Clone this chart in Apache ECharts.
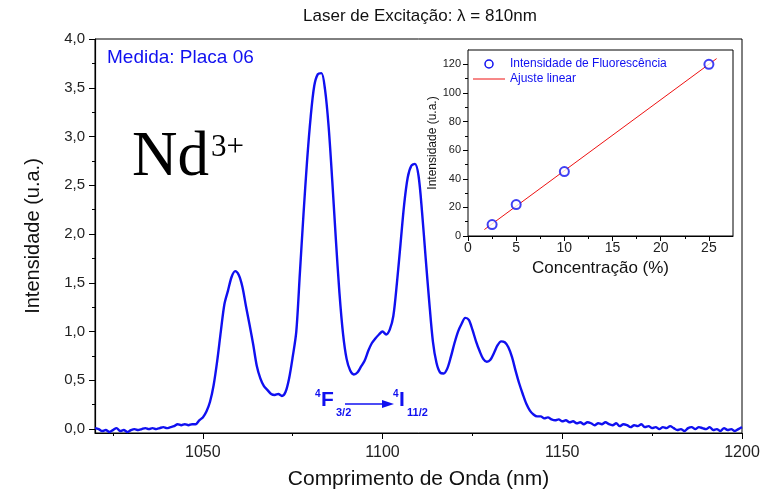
<!DOCTYPE html>
<html>
<head>
<meta charset="utf-8">
<script src="https://cdn.jsdelivr.net/npm/echarts@6/dist/echarts.min.js"></script>
<style>
  html, body { margin: 0; padding: 0; background: #fff; }
  #chart { width: 769px; height: 495px; }
</style>
</head>
<body>
<div id="chart"></div>
<script>
// spectrum, one reading per nm starting at 1020 nm
const startNm = 1020;
const intensity = [
  0.01, 0.00, -0.02, -0.01, -0.03, -0.01, 0.01, -0.02, -0.01, -0.03,
  -0.01, 0.00, -0.01, 0.00, 0.01, 0.00, 0.01, 0.00, 0.01, 0.02,
  0.01, 0.02, 0.03, 0.05, 0.04, 0.05, 0.04, 0.05, 0.05, 0.09,
  0.12, 0.18, 0.28, 0.45, 0.70, 1.00, 1.28, 1.42, 1.56, 1.62,
  1.58, 1.46, 1.26, 1.07, 0.87, 0.65, 0.52, 0.44, 0.40, 0.36,
  0.35, 0.36, 0.34, 0.38, 0.52, 0.74, 1.00, 1.60, 2.20, 2.75,
  3.20, 3.52, 3.64, 3.65, 3.48, 3.10, 2.55, 1.95, 1.40, 0.98,
  0.72, 0.60, 0.56, 0.58, 0.64, 0.70, 0.80, 0.88, 0.93, 0.97,
  1.00, 0.97, 1.02, 1.16, 1.50, 1.90, 2.30, 2.58, 2.70, 2.72,
  2.60, 2.22, 1.75, 1.30, 0.90, 0.68, 0.58, 0.57, 0.62, 0.74,
  0.88, 1.00, 1.08, 1.14, 1.12, 1.02, 0.90, 0.80, 0.72, 0.69,
  0.71, 0.78, 0.86, 0.90, 0.89, 0.84, 0.74, 0.60, 0.47, 0.36,
  0.26, 0.19, 0.15, 0.13, 0.13, 0.11, 0.12, 0.10, 0.09, 0.10,
  0.08, 0.09, 0.07, 0.08, 0.06, 0.07, 0.05, 0.07, 0.06, 0.04,
  0.06, 0.05, 0.07, 0.05, 0.04, 0.06, 0.03, 0.05, 0.04, 0.02,
  0.04, 0.03, 0.05, 0.02, 0.03, 0.01, 0.02, 0.00, 0.02, 0.01,
  0.03, 0.01, -0.01, 0.00, -0.02, 0.01, 0.02, 0.00, 0.02, 0.01,
  0.00, 0.02, -0.01, 0.00, -0.02, 0.01, -0.01, 0.00, -0.02, 0.00,
  0.02
];

// inset: fluorescence vs concentration
const concentration = [2.5, 5, 10, 25];
const fluorescence = [8, 22, 45, 120];
const fitLine = [[1.7, 4.5], [25.8, 124]];

// ticks
const mainXTicks = [1050, 1100, 1150, 1200];
const mainXMinor = [1025, 1075, 1125, 1175];
const mainYTicks = [0, 0.5, 1, 1.5, 2, 2.5, 3, 3.5, 4];
const mainYMinor = [0.25, 0.75, 1.25, 1.75, 2.25, 2.75, 3.25, 3.75];
const insetXTicks = [0, 5, 10, 15, 20, 25];
const insetXMinor = [2.5, 7.5, 12.5, 17.5, 22.5];
const insetYTicks = [0, 20, 40, 60, 80, 100, 120];
const insetYMinor = [10, 30, 50, 70, 90, 110];

const blue = '#1010f0';
const font = 'Liberation Sans';
const spectrum = intensity.map((v, i) => [startNm + i, v]);

const chart = echarts.init(document.getElementById('chart'));

// helper for axes that only carry minor ticks
function minorAxis(gridIndex, position, min, max, values, len) {
  return {
    type: 'value', gridIndex, position, offset: 0, min, max,
    axisLine: { show: false, onZero: false },
    axisLabel: { show: false },
    splitLine: { show: false },
    axisTick: { show: true, customValues: values, length: len, lineStyle: { color: '#000', width: 1 } }
  };
}

const option = {
  animation: false,
  backgroundColor: '#fff',
  grid: [
    { left: 95, right: 27, top: 39, bottom: 61, show: true, borderColor: '#000', borderWidth: 1 },
    { left: 468, right: 36, top: 50, bottom: 259, show: true, borderColor: '#000', borderWidth: 1, backgroundColor: '#fff', z: 5 }
  ],
  xAxis: [
    {
      type: 'value', gridIndex: 0, position: 'bottom', min: 1020, max: 1200,
      name: 'Comprimento de Onda (nm)', nameLocation: 'middle', nameGap: 36,
      nameTextStyle: { fontFamily: font, fontSize: 21, color: '#111' },
      axisLine: { onZero: false, lineStyle: { color: '#000', width: 1.2 } },
      axisTick: { customValues: mainXTicks, length: 6, lineStyle: { color: '#000' } },
      axisLabel: { customValues: mainXTicks, fontFamily: font, fontSize: 16, color: '#222', margin: 12, formatter: v => String(v) },
      splitLine: { show: false }
    },
    minorAxis(0, 'bottom', 1020, 1200, mainXMinor, 3),
    {
      type: 'value', gridIndex: 1, position: 'bottom', min: 0, max: 27.5,
      name: 'Concentração (%)', nameLocation: 'middle', nameGap: 24,
      nameTextStyle: { fontFamily: font, fontSize: 17, color: '#111' },
      axisLine: { onZero: false, lineStyle: { color: '#000', width: 1 } },
      axisTick: { customValues: insetXTicks, length: 5, lineStyle: { color: '#000' } },
      axisLabel: { customValues: insetXTicks, fontFamily: font, fontSize: 14, color: '#222', margin: 5 },
      splitLine: { show: false }
    },
    minorAxis(1, 'bottom', 0, 27.5, insetXMinor, 3)
  ],
  yAxis: [
    {
      type: 'value', gridIndex: 0, position: 'left', min: -0.04, max: 4,
      name: 'Intensidade (u.a.)', nameLocation: 'middle', nameGap: 52,
      nameTextStyle: { fontFamily: font, fontSize: 20, color: '#111' },
      axisLine: { onZero: false, lineStyle: { color: '#000', width: 1.2 } },
      axisTick: { customValues: mainYTicks, length: 6, lineStyle: { color: '#000' } },
      axisLabel: {
        customValues: mainYTicks, fontFamily: font, fontSize: 15, color: '#222', margin: 10,
        formatter: v => v.toFixed(1).replace('.', ',')
      },
      splitLine: { show: false }
    },
    minorAxis(0, 'left', -0.04, 4, mainYMinor, 3),
    {
      type: 'value', gridIndex: 1, position: 'left', min: 0, max: 130,
      name: 'Intensidade (u.a.)', nameLocation: 'middle', nameGap: 28,
      nameTextStyle: { fontFamily: font, fontSize: 12, color: '#111' },
      axisLine: { onZero: false, lineStyle: { color: '#000', width: 1 } },
      axisTick: { customValues: insetYTicks, length: 5, lineStyle: { color: '#000' } },
      axisLabel: { customValues: insetYTicks, fontFamily: font, fontSize: 11, color: '#222', margin: 7 },
      splitLine: { show: false }
    },
    minorAxis(1, 'left', 0, 130, insetYMinor, 3)
  ],
  series: [
    {
      type: 'line', xAxisIndex: 0, yAxisIndex: 0, data: spectrum,
      showSymbol: false, smooth: 0.3,
      lineStyle: { color: blue, width: 2.4 }
    },
    {
      type: 'line', xAxisIndex: 2, yAxisIndex: 2, data: fitLine, z: 6,
      showSymbol: false, lineStyle: { color: '#ee1111', width: 1 }
    },
    {
      type: 'scatter', xAxisIndex: 2, yAxisIndex: 2, z: 7,
      data: concentration.map((c, i) => [c, fluorescence[i]]),
      symbol: 'emptyCircle', symbolSize: 9,
      itemStyle: { color: blue, borderColor: blue, borderWidth: 1.5 }
    }
  ],
  graphic: [
    { type: 'text', x: 420, y: 8, style: { text: 'Laser de Excitação: λ = 810nm', font: '17px "Liberation Sans"', fill: '#111', align: 'center' } },
    { type: 'text', x: 107, y: 48, style: { text: 'Medida: Placa 06', font: '19px "Liberation Sans"', fill: blue } },
    { type: 'text', x: 132, y: 127, style: { text: 'Nd', font: '63px "Liberation Serif"', fill: '#000' } },
    { type: 'text', x: 211, y: 132, style: { text: '3+', font: '31px "Liberation Serif"', fill: '#000' } },
    // transition label
    { type: 'text', x: 315, y: 389, style: { text: '4', font: 'bold 10px "Liberation Sans"', fill: blue } },
    { type: 'text', x: 321, y: 390, style: { text: 'F', font: 'bold 21px "Liberation Sans"', fill: blue } },
    { type: 'text', x: 336, y: 407, style: { text: '3/2', font: 'bold 11px "Liberation Sans"', fill: blue } },
    { type: 'line', shape: { x1: 345, y1: 404, x2: 384, y2: 404 }, style: { stroke: blue, lineWidth: 1.5 } },
    { type: 'polygon', shape: { points: [[382, 400], [394, 404], [382, 408]] }, style: { fill: blue } },
    { type: 'text', x: 393, y: 389, style: { text: '4', font: 'bold 10px "Liberation Sans"', fill: blue } },
    { type: 'text', x: 399, y: 390, style: { text: 'I', font: 'bold 21px "Liberation Sans"', fill: blue } },
    { type: 'text', x: 407, y: 407, style: { text: '11/2', font: 'bold 11px "Liberation Sans"', fill: blue } },
    // inset legend
    { type: 'circle', z: 10, shape: { cx: 489, cy: 64, r: 4 }, style: { fill: '#fff', stroke: blue, lineWidth: 1.5 } },
    { type: 'text', z: 10, x: 510, y: 58, style: { text: 'Intensidade de Fluorescência', font: '12px "Liberation Sans"', fill: blue } },
    { type: 'line', z: 10, shape: { x1: 473, y1: 79, x2: 505, y2: 79 }, style: { stroke: '#ee1111', lineWidth: 1 } },
    { type: 'text', z: 10, x: 510, y: 73, style: { text: 'Ajuste linear', font: '12px "Liberation Sans"', fill: blue } }
  ]
};

chart.setOption(option);
</script>
</body>
</html>
